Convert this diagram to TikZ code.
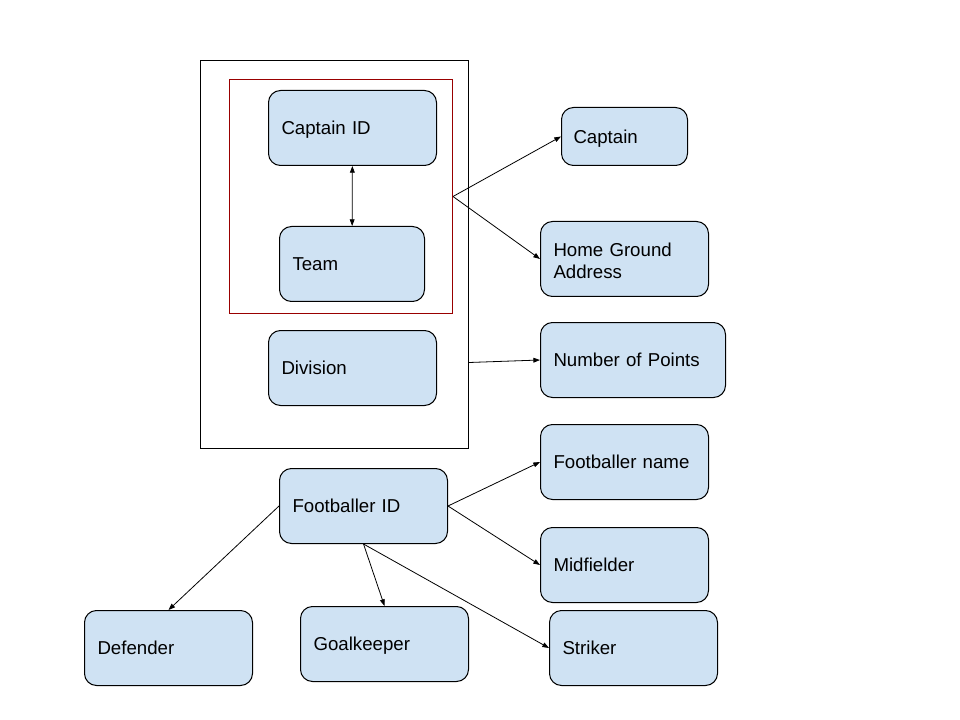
\documentclass[tikz,border=0pt]{standalone}
\usepackage{fontspec}
\setmainfont{Liberation Sans}
\usepackage{tikz}
\usetikzlibrary{arrows.meta}

\definecolor{boxblue}{HTML}{CFE2F3}
\definecolor{grpred}{HTML}{990000}

\tikzset{
	arr/.tip={Triangle[length=5pt,width=3.6pt]},
	box/.style={draw, line width=0.75pt, fill=boxblue, rounded corners=9pt, anchor=north west,
		inner xsep=9.75pt, inner ysep=0pt, minimum height=56.25pt, align=left,
		text height=13pt, text depth=3pt, font=\fontsize{14}{16.5}\selectfont},
	link/.style={line width=0.6pt, -arr},
	dlink/.style={line width=0.6pt, arr-arr}
}

\begin{document}
\begin{tikzpicture}[x=0.75pt,y=-0.75pt]
	\useasboundingbox (0,0) rectangle (960,720);

	\node[draw, line width=0.75pt, anchor=north west, minimum width=201pt, minimum height=291pt, inner sep=0pt] (outer) at (200,60) {};
	\node[draw=grpred, line width=0.75pt, anchor=north west, minimum width=167.25pt, minimum height=175.5pt, inner sep=0pt] (teamgrp) at (229,79) {};

	\node[box, text width=106.5pt] (capid) at (268,90) {Captain ID};
	\node[box, text width=89.25pt] (team) at (279,226) {Team};
	\node[box, text width=106.5pt] (division) at (268,330) {Division};

	\node[box, text width=76.5pt, minimum height=43.5pt, inner xsep=9pt] (captain) at (561,107) {Captain};
	\node[box, text width=106.5pt, text height={}, text depth={}] (home) at (540,221) {\rule{0pt}{13pt}Home Ground\\Address};
	\node[box, text width=119.25pt] (points) at (540,322) {Number of Points};
	\node[box, text width=106.5pt] (fname) at (540,424) {Footballer name};
	\node[box, text width=106.5pt] (footid) at (279,468) {Footballer ID};
	\node[box, text width=106.5pt] (mid) at (540,527) {Midfielder};
	\node[box, text width=106.5pt] (defender) at (84,610) {Defender};
	\node[box, text width=106.5pt] (goal) at (300,606) {Goalkeeper};
	\node[box, text width=106.5pt] (striker) at (549,610) {Striker};

	% connectors
	\draw[dlink] (capid) -- (team);
	\draw[link] (teamgrp.east) -- (captain.west);
	\draw[link] (teamgrp.east) -- (home.west);
	\draw[link] ([yshift=-81pt]outer.east) -- (points.west);

	\draw[link] (footid.east) -- (fname.west);
	\draw[link] (footid.east) -- (mid.west);
	\draw[link] (footid.west) -- (defender.north);
	\draw[link] (footid.south) -- (goal.north);
	\draw[link] (footid.south) -- (striker.west);

\end{tikzpicture}
\end{document}
